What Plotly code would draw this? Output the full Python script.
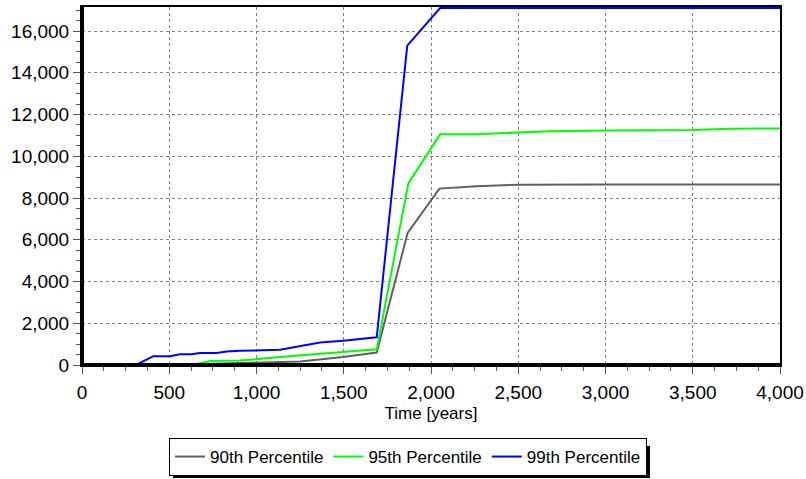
import plotly.graph_objects as go

# Data
years_90 = [0, 300, 500, 700, 905, 1250, 1497, 1689, 1866, 2048, 2261, 2500, 3000, 3500, 4000]
p90 = [0, 0, 20, 50, 100, 170, 380, 600, 6330, 8450, 8560, 8640, 8650, 8650, 8650]

years_95 = [0, 500, 640, 735, 905, 1135, 1497, 1689, 1870, 2052, 2261, 2682, 3000, 3370, 3502, 3713, 4000]
p95 = [0, 20, 30, 190, 210, 380, 600, 750, 8700, 11050, 11060, 11200, 11230, 11230, 11260, 11320, 11330]

years_99 = [0, 275, 323, 409, 504, 562, 628, 676, 772, 829, 905, 1135, 1364, 1497, 1689, 1864, 2052, 4000]
p99 = [0, 0, 60, 420, 420, 510, 510, 580, 580, 650, 680, 730, 1080, 1160, 1330, 15300, 17100, 17100]

series_names = ["90th Percentile", "95th Percentile", "99th Percentile"]
colors = ["#606060", "#00ff00", "#0000ff"]

x_ticks = list(range(0, 4001, 500))
y_ticks = list(range(0, 16001, 2000))

W, H = 806, 479
ML, MR, MT, MB = 82, 26, 7, 114
PW, PH = W - ML - MR, H - MT - MB

fig = go.Figure()
for xs, ys, name, c in zip([years_90, years_95, years_99], [p90, p95, p99], series_names, colors):
    fig.add_trace(go.Scatter(x=xs, y=ys, mode="lines", name=name,
                             line=dict(color=c, width=2)))

FAM = "Arial, Liberation Sans, sans-serif"
tick_font = dict(family=FAM, size=19, color="black")
text_font = dict(family=FAM, size=17, color="black")

def px2x(px):
    return (px - ML) / PW

def px2y(py):
    return (H - MB - py) / PH

fig.update_layout(
    width=W, height=H,
    margin=dict(l=ML, r=MR, t=MT, b=MB, autoexpand=False),
    paper_bgcolor="white", plot_bgcolor="white",
    font=text_font,
    showlegend=True,
    legend=dict(orientation="h", x=px2x(408), xanchor="center", y=px2y(438), yanchor="top",
                bgcolor="white", bordercolor="black", borderwidth=1,
                font=text_font, itemwidth=30, tracegroupgap=0),
    xaxis=dict(range=[0, 4000], tickvals=x_ticks, tickformat=",d", tickfont=tick_font,
               showgrid=True, gridcolor="#808080", griddash="dot", gridwidth=1,
               showline=True, linecolor="black", linewidth=2, mirror=True,
               ticks="outside", ticklen=7, tickcolor="#555", tickwidth=1,
               ticklabelstandoff=2,
               minor=dict(dtick=125, ticks="outside", ticklen=4, tickcolor="#555", showgrid=False),
               zeroline=False,
               title=dict(text="Time [years]", font=text_font, standoff=5)),
    yaxis=dict(range=[0, 17150], tickvals=y_ticks, tickformat=",d", tickfont=tick_font,
               showgrid=True, gridcolor="#808080", griddash="dot", gridwidth=1,
               showline=True, linecolor="black", linewidth=2, mirror=True,
               ticks="outside", ticklen=7, tickcolor="#555", tickwidth=1,
               minor=dict(dtick=500, ticks="outside", ticklen=4, tickcolor="#555", showgrid=False),
               zeroline=False),
)

# thicker left and bottom axis lines
fig.add_shape(type="line", xref="paper", yref="paper", x0=0, x1=0, y0=0, y1=1,
              line=dict(color="black", width=4), layer="above")
fig.add_shape(type="line", xref="paper", yref="paper", x0=0, x1=1, y0=0, y1=0,
              line=dict(color="black", width=4), layer="above")

# legend drop shadow
fig.add_shape(type="rect", xref="paper", yref="paper",
              x0=px2x(173), x1=px2x(650), y0=px2y(478), y1=px2y(446),
              fillcolor="black", line=dict(width=0), layer="below")

fig.write_html("out.html")
